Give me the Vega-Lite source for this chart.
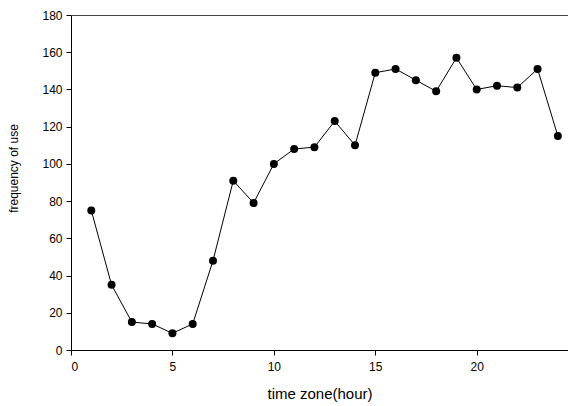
{
  "$schema": "https://vega.github.io/schema/vega-lite/v6.json",
  "width": 497,
  "height": 335,
  "autosize": {"type": "none"},
  "padding": {"left": 71, "top": 15, "right": 0, "bottom": 56},
  "background": "white",
  "config": {
    "view": {"stroke": null},
    "font": "Liberation Sans",
    "axis": {
      "domainColor": "#000000",
      "tickColor": "#000000",
      "labelColor": "#000000",
      "titleColor": "#000000",
      "labelFont": "Liberation Sans",
      "titleFont": "Liberation Sans",
      "labelFontSize": 12,
      "titleFontSize": 13,
      "titleFontWeight": "normal",
      "grid": false,
      "tickSize": 5,
      "domainWidth": 1,
      "tickWidth": 1,
      "labelOverlap": false
    }
  },
  "data": {
    "values": [
      {"hour": 1, "freq": 75},
      {"hour": 2, "freq": 35},
      {"hour": 3, "freq": 15},
      {"hour": 4, "freq": 14},
      {"hour": 5, "freq": 9},
      {"hour": 6, "freq": 14},
      {"hour": 7, "freq": 48},
      {"hour": 8, "freq": 91},
      {"hour": 9, "freq": 79},
      {"hour": 10, "freq": 100},
      {"hour": 11, "freq": 108},
      {"hour": 12, "freq": 109},
      {"hour": 13, "freq": 123},
      {"hour": 14, "freq": 110},
      {"hour": 15, "freq": 149},
      {"hour": 16, "freq": 151},
      {"hour": 17, "freq": 145},
      {"hour": 18, "freq": 139},
      {"hour": 19, "freq": 157},
      {"hour": 20, "freq": 140},
      {"hour": 21, "freq": 142},
      {"hour": 22, "freq": 141},
      {"hour": 23, "freq": 151},
      {"hour": 24, "freq": 115}
    ]
  },
  "encoding": {
    "y": {
      "field": "freq", "type": "quantitative",
      "scale": {"domain": [0, 180], "nice": false},
      "axis": {"title": "frequency of use", "titleFontSize": 12, "values": [0, 20, 40, 60, 80, 100, 120, 140, 160, 180], "labelPadding": 4, "titlePadding": 21, "titleY": 153}
    }
  },
  "layer": [
    {
      "mark": {"type": "line", "color": "#000000", "strokeWidth": 1},
      "encoding": {
        "x": {
          "field": "hour", "type": "quantitative",
          "scale": {"domain": [0, 24.5], "nice": false, "zero": false},
          "axis": {"title": "time zone(hour)", "titleFontSize": 15, "values": [0, 5, 10, 15, 20], "labelPadding": 6, "titlePadding": 14, "format": "d"}
        }
      }
    },
    {
      "mark": {"type": "point", "filled": true, "color": "#000000", "size": 64, "opacity": 1},
      "encoding": {
        "x": {
          "field": "hour", "type": "quantitative",
          "scale": {"domain": [0, 24.5], "nice": false, "zero": false},
          "axis": {"orient": "top", "labels": false, "ticks": false, "title": null, "domainColor": "#444444"}
        }
      }
    }
  ],
  "resolve": {"axis": {"x": "independent"}}
}
